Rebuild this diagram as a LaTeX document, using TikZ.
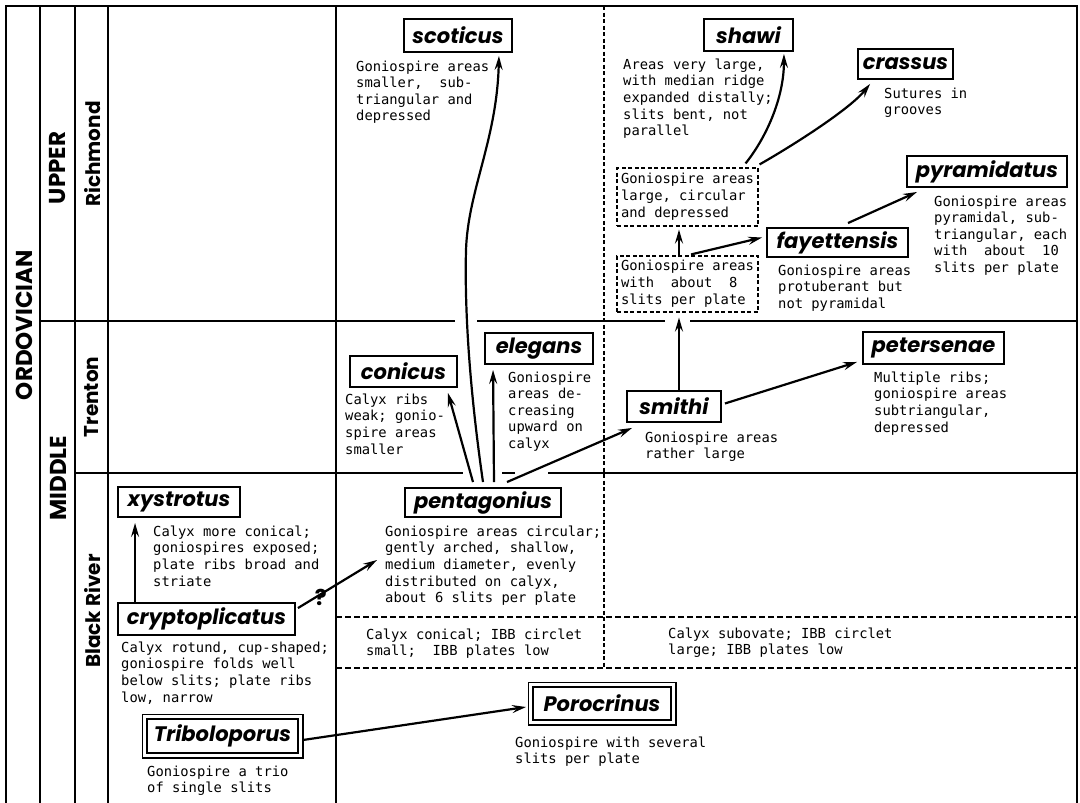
\documentclass[tikz,border=0pt]{standalone}
\usepackage{fontspec}
\newfontfamily\labfont{Poppins}
\newfontfamily\monofont{DejaVu Sans Mono}
\usetikzlibrary{arrows.meta}
\begin{document}
\begin{tikzpicture}[x=1pt,y=-1pt,
  frame/.style={line width=1.8pt},
  dline/.style={line width=1.1pt, dash pattern=on 6pt off 3pt},
  vdline/.style={line width=1.1pt, dash pattern=on 4pt off 2.5pt},
  taxon/.style={draw, line width=1.9pt, inner sep=0pt, font=\labfont\bfseries\itshape\fontsize{21}{24}\selectfont},
  desc/.style={anchor=north west, inner sep=0pt, align=left, font=\monofont\fontsize{13.8}{16.6}\selectfont},
  dbox/.style={draw, line width=1.1pt, dash pattern=on 4pt off 2.5pt, inner sep=4pt, align=left, font=\monofont\fontsize{13.8}{17}\selectfont},
  arr/.style={line width=2.2pt, -{Stealth[length=14pt,width=8pt,inset=5pt]}},
  era/.style={rotate=90, inner sep=0pt, font=\labfont\bfseries\fontsize{20}{24}\selectfont},
  erabig/.style={era, font=\labfont\bfseries\fontsize{23}{26}\selectfont}
]
\useasboundingbox (0,0) rectangle (1080,803);
% frame
\draw[frame] (6,803) -- (6,6) -- (1077,6) -- (1077,803);
\draw[frame] (40,6) -- (40,803);
\draw[frame] (75,6) -- (75,803);
\draw[frame] (108,6) -- (108,803);
\draw[frame] (336,6) -- (336,803);
\draw[frame] (40,321) -- (455,321);
\draw[frame] (477,321) -- (665,321);
\draw[frame] (690,321) -- (1077,321);
\draw[frame] (75,473) -- (463,473);
\draw[frame] (502,473) -- (515,473);
\draw[frame] (548,473) -- (1077,473);
\draw[vdline] (604,6) -- (604,668);
\draw[dline] (336,617) -- (1077,617);
\draw[dline] (336,668) -- (1077,668);
% time labels
\node[erabig] (ordo) at (24,325) {ORDOVICIAN};
\node[erabig] (upper) at (58,168) {UPPER};
\node[erabig] (middle) at (58,478) {MIDDLE};
\node[era] (rich) at (93,154) {Richmond};
\node[era] (tren) at (92,397) {Trenton};
\node[era] (black) at (93,611) {Black River};
% taxa
\node[taxon, minimum width=108pt, minimum height=33pt] (sco) at (458,35.5) {scoticus};
\node[taxon, minimum width=89pt, minimum height=32pt] (sha) at (748.5,35) {shawi};
\node[taxon, minimum width=95pt, minimum height=30pt] (cra) at (905.5,64) {crassus};
\node[taxon, minimum width=160pt, minimum height=31pt] (pyr) at (987,171.5) {pyramidatus};
\node[taxon, minimum width=141pt, minimum height=29pt] (fay) at (837.5,242.5) {fayettensis};
\node[taxon, minimum width=107pt, minimum height=31pt] (con) at (403.5,371.5) {conicus};
\node[taxon, minimum width=108pt, minimum height=31pt] (ele) at (539,348.5) {elegans};
\node[taxon, minimum width=94pt, minimum height=31pt] (smi) at (674,406.5) {smithi};
\node[taxon, minimum width=141pt, minimum height=32pt] (pet) at (933.5,348) {petersenae};
\node[taxon, minimum width=156pt, minimum height=29pt] (pen) at (483,502.5) {pentagonius};
\node[taxon, minimum width=122pt, minimum height=30pt] (xys) at (179,502) {xystrotus};
\node[taxon, minimum width=177pt, minimum height=32pt] (cry) at (206.5,619) {cryptoplicatus};
\node[taxon, minimum width=151pt, minimum height=34pt] (tri) at (222.5,736) {Triboloporus};
\draw[line width=1.1pt] ([shift={(-4pt,4pt)}]tri.north west) rectangle ([shift={(4pt,-4pt)}]tri.south east);
\node[taxon, minimum width=138pt, minimum height=33pt] (por) at (602,703.5) {Porocrinus};
\draw[line width=1.1pt] ([shift={(-4pt,4pt)}]por.north west) rectangle ([shift={(4pt,-4pt)}]por.south east);
% dashed boxes
\node[dbox, minimum width=141pt, minimum height=58pt] (ga) at (687.5,197) {Goniospire areas\\large, circular\\and depressed};
\node[dbox, minimum width=141pt, minimum height=56pt] (gb) at (687.5,284) {Goniospire areas\\with\ \ about\ \ 8\\slits per plate};
% descriptions
\node[desc] (scod) at (356,60.5) {Goniospire areas\\smaller,\ \ sub-\\triangular and\\depressed};
\node[desc] (shad) at (623,58.5) {Areas very large,\\with median ridge\\expanded distally;\\slits bent, not\\parallel};
\node[desc] (crad) at (884,87.5) {Sutures in\\grooves};
\node[desc] (pyrd) at (934,195.5) {Goniospire areas\\pyramidal, sub-\\triangular, each\\with\ \ about\ \ 10\\slits per plate};
\node[desc] (fayd) at (778,264.5) {Goniospire areas\\protuberant but\\not pyramidal};
\node[desc] (smid) at (645,431.5) {Goniospire areas\\rather large};
\node[desc] (petd) at (874,371.5) {Multiple ribs;\\goniospire areas\\subtriangular,\\depressed};
\node[desc] (cond) at (345,393.5) {Calyx ribs\\weak; gonio-\\spire areas\\smaller};
\node[desc] (eled) at (508,371.5) {Goniospire\\areas de-\\creasing\\upward on\\calyx};
\node[desc] (pend) at (385,525.5) {Goniospire areas circular;\\gently arched, shallow,\\medium diameter, evenly\\distributed on calyx,\\about 6 slits per plate};
\node[desc] (xysd) at (153,525.5) {Calyx more conical;\\goniospires exposed;\\plate ribs broad and\\striate};
\node[desc] (cryd) at (121,641.5) {Calyx rotund, cup-shaped;\\goniospire folds well\\below slits; plate ribs\\low, narrow};
\node[desc] (cal1) at (366,628.5) {Calyx conical; IBB circlet\\small;\ \ IBB plates low};
\node[desc] (cal2) at (668,627.5) {Calyx subovate; IBB circlet\\large; IBB plates low};
\node[desc] (trid) at (147,765.5) {Goniospire a trio\\of single slits};
\node[desc] (pord) at (515,736.5) {Goniospire with several\\slits per plate};
% arrows
\draw[arr] ([xshift=18pt]cry.north west) -- ([xshift=18pt,yshift=-5pt]xys.south west);
\draw[arr] ([xshift=2pt,yshift=-6pt]cry.north east) -- node[pos=0.29, inner sep=0pt, yshift=-3pt, font=\labfont\bfseries\fontsize{22}{24}\selectfont] (qm) {?} ([xshift=-8pt,yshift=-34.5pt]pend.north west);
\draw[arr] ([xshift=4pt,yshift=-4pt]tri.east) -- ([xshift=-6pt,yshift=-3.5pt]por.west);
\draw[arr] ([xshift=-10pt,yshift=5pt]pen.north) -- ([xshift=-10pt,yshift=-5pt]con.south east);
\draw[arr] ([yshift=5pt]pen.north) .. controls (474,420) and (464,330) .. (466,250) .. controls (468,190) and (497,140) .. ([xshift=-14pt,yshift=-3pt]sco.south east);
\draw[arr] ([xshift=11pt,yshift=5pt]pen.north) -- ([xshift=9pt,yshift=-5pt]ele.south west);
\draw[arr] ([xshift=24pt,yshift=5pt]pen.north) -- ([xshift=6pt,yshift=-5pt]smi.south west);
\draw[arr] ([xshift=5pt]smi.north) -- ([xshift=-8.5pt,yshift=-5pt]gb.south);
\draw[arr] ([xshift=3pt,yshift=3pt]smi.east) -- ([xshift=-5pt,yshift=3pt]pet.south west);
\draw[arr] ([xshift=-8.5pt]gb.north) -- ([xshift=-8.5pt,yshift=-3pt]ga.south);
\draw[arr] ([xshift=3.5pt,yshift=1pt]gb.north) -- ([xshift=-4pt,yshift=5pt]fay.west);
\draw[arr] ([xshift=10.5pt,yshift=4pt]fay.north) -- ([xshift=11pt,yshift=-4pt]pyr.south west);
\draw[arr] ([xshift=-13pt,yshift=4pt]ga.north east) .. controls +(20,-25) and +(0,45) .. ([xshift=-10pt,yshift=-2pt]sha.south east);
\draw[arr] ([xshift=1pt,yshift=3pt]ga.north east) .. controls +(35,-20) and +(-20,25) .. ([xshift=13pt,yshift=-4pt]cra.south west);
\end{tikzpicture}
\end{document}
